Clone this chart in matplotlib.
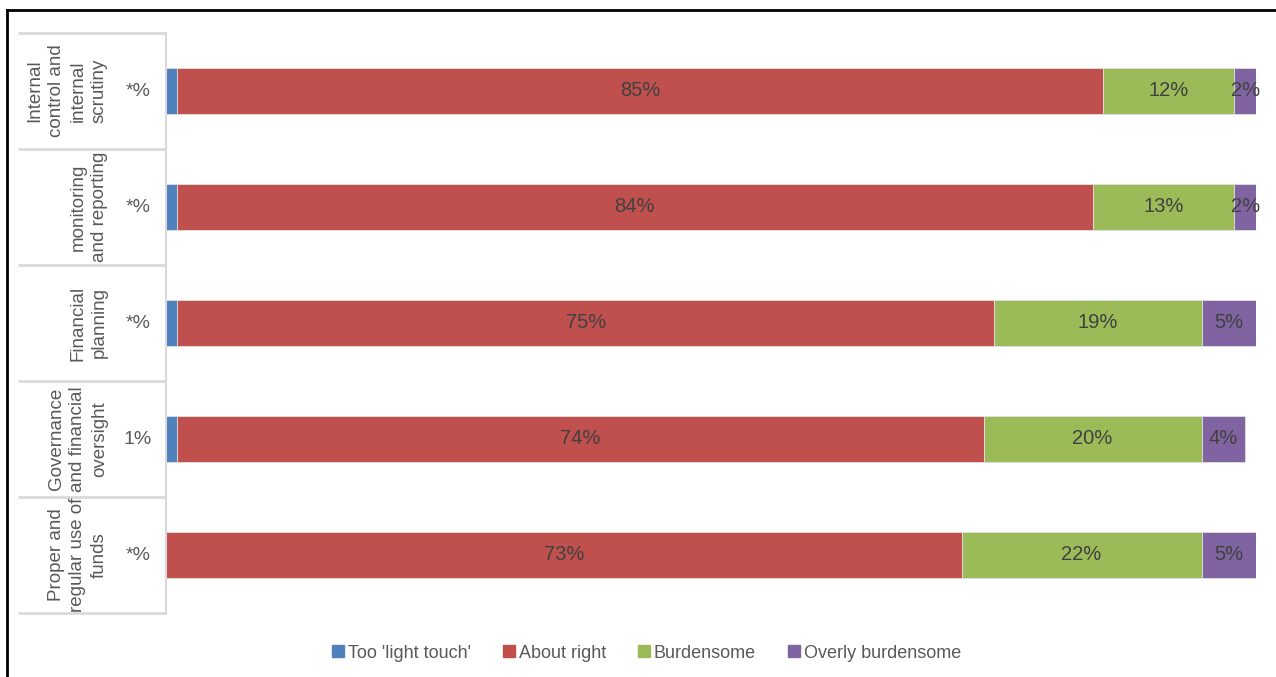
import matplotlib
matplotlib.use('Agg')
import matplotlib.pyplot as plt
from matplotlib.lines import Line2D
import numpy as np

plt.rcParams['font.family'] = ['Liberation Sans', 'DejaVu Sans']

# data (percent of respondents), top row first
categories = [
    "Internal\ncontrol and\ninternal\nscrutiny",
    "monitoring\nand reporting",
    "Financial\nplanning",
    "Governance\nand financial\noversight",
    "Proper and\nregular use of\nfunds",
]
series_names = ["Too 'light touch'", "About right", "Burdensome", "Overly burdensome"]
too_light = [1, 1, 1, 1, 0]
about_right = [85, 84, 75, 74, 73]
burdensome = [12, 13, 19, 20, 22]
overly = [2, 2, 5, 4, 5]
too_light_labels = ["*%", "*%", "*%", "1%", "*%"]

COLORS = ['#4F81BD', '#C0504D', '#9BBB59', '#8064A2']
TEXT = '#404040'
GREY_TEXT = '#595959'
GRID = '#D9D9D9'

fig = plt.figure(figsize=(12.76, 6.77), dpi=100)
ax = fig.add_axes([166 / 1276, 1 - 613 / 677, 1090 / 1276, 580 / 677])

y = np.arange(len(categories))
left = np.zeros(len(categories))
for vals, col in zip([too_light, about_right, burdensome, overly], COLORS):
    vals = np.array(vals, dtype=float)
    ax.barh(y, vals, left=left, height=0.4, color=col,
            edgecolor='#E0E0E0', linewidth=0.6)
    if col != COLORS[0]:
        for yi, l, v in zip(y, left, vals):
            if v > 0:
                ax.text(l + v / 2, yi, f"{int(v)}%", ha='center', va='center',
                        fontsize=14.5, color=TEXT)
    left += vals

ax.set_xlim(0, 100)
ax.set_ylim(len(categories) - 0.5, -0.5)
ax.set_xticks([])
ax.set_yticks([])
for s in ['top', 'right', 'bottom']:
    ax.spines[s].set_visible(False)
ax.spines['left'].set_color(GRID)
ax.spines['left'].set_linewidth(1.5)

# left table: row separators, category names and "too light" values
tr = ax.get_yaxis_transform()
x0 = (18 - 166) / 1090
ax.hlines(np.arange(len(categories) + 1) - 0.5, x0, 0, transform=tr,
          color=GRID, linewidth=2, clip_on=False)
for yi, name, lab in zip(y, categories, too_light_labels):
    ax.text((108 - 166) / 1090, yi, name, rotation=90, ha='right', va='center',
            fontsize=13.5, color=GREY_TEXT, linespacing=1.35, transform=tr,
            multialignment='center')
    ax.text((138 - 166) / 1090, yi, lab, ha='center', va='center',
            fontsize=14, color=GREY_TEXT, transform=tr)

handles = [Line2D([], [], marker='s', linestyle='none', markersize=8,
                  markerfacecolor=c, markeredgecolor=c) for c in COLORS]
fig.legend(handles, series_names, loc='center', bbox_to_anchor=(645 / 1276, 1 - 653 / 677),
           ncol=4, frameon=False, fontsize=13, handletextpad=0.05, columnspacing=1.6,
           handlelength=1.0, labelcolor=GREY_TEXT)

# outer border (top and left only)
fig.add_artist(Line2D([7 / 1276, 1], [1 - 10 / 677, 1 - 10 / 677], color='black', linewidth=2))
fig.add_artist(Line2D([7 / 1276, 7 / 1276], [0, 1 - 10 / 677], color='black', linewidth=2))

fig.savefig('out.png', dpi=100, facecolor='white')
